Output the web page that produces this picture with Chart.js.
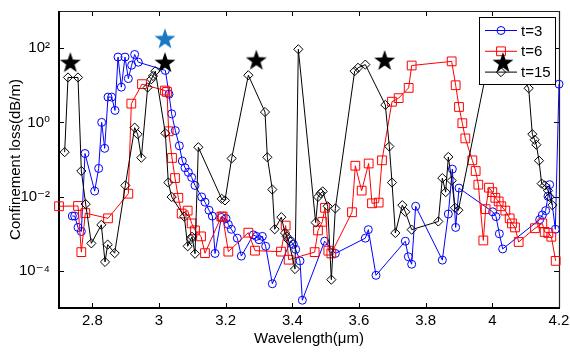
<!DOCTYPE html>
<html><head><meta charset="utf-8">
<script src="https://cdn.jsdelivr.net/npm/chart.js@4.4.0/dist/chart.umd.min.js"></script>
<style>html,body{margin:0;padding:0;background:#fff;}canvas{display:block;}</style>
</head><body>
<canvas id="c" width="570" height="352"></canvas>
<script>
// ---- data ----
const seriesNames = ['t=3', 't=6', 't=15'];

const wl3 = [2.740, 2.747, 2.757, 2.767, 2.778, 2.807, 2.819, 2.828, 2.837, 2.847, 2.858, 2.868, 2.877, 2.887, 2.898, 2.908, 2.918, 2.927, 2.938, 3.019, 3.030, 3.038, 3.049, 3.061, 3.070, 3.078, 3.088, 3.098, 3.108, 3.128, 3.138, 3.150, 3.160, 3.168, 3.187, 3.201, 3.208, 3.217, 3.235, 3.247, 3.283, 3.292, 3.300, 3.310, 3.320, 3.340, 3.395, 3.403, 3.410, 3.423, 3.430, 3.497, 3.529, 3.619, 3.628, 3.651, 3.739, 3.748, 3.758, 3.770, 3.850, 3.868, 3.880, 3.890, 3.900, 4.001, 4.011, 4.021, 4.031, 4.142, 4.150, 4.160, 4.167, 4.172, 4.189, 4.200];
const loss3 = [3.0e-3, 3.0e-3, 1.48e-3, 1.15e-3, 0.145, 0.0141, 0.0575, 1.0, 0.20, 4.8, 4.8, 2.1, 57.5, 8.9, 57.5, 15.1, 34.7, 67.6, 41.7, 25.1, 5.75, 1.70, 0.60, 0.234, 0.091, 0.060, 0.045, 0.033, 0.020, 9.8e-3, 7.1e-3, 4.3e-3, 3.0e-3, 2.95e-4, 2.75e-3, 2.57e-3, 1.78e-3, 1.32e-3, 7.6e-4, 2.5e-4, 9.3e-4, 8.5e-4, 6.9e-4, 8.5e-4, 4.6e-4, 4.5e-5, 6.3e-4, 5.2e-4, 3.8e-4, 1.86e-4, 1.62e-5, 6.3e-4, 2.95e-4, 7.6e-4, 1.29e-3, 7.6e-5, 6.3e-4, 2.4e-4, 1.51e-4, 5.5e-3, 1.95e-4, 3.4e-3, 0.055, 1.48e-3, 0.017, 3.9e-3, 2.9e-3, 1.0e-3, 3.9e-4, 2.4e-3, 3.2e-3, 4.2e-3, 0.0102, 0.021, 1.32e-3, 10.7];

const wl6 = [2.700, 2.757, 2.767, 2.779, 2.847, 2.908, 2.917, 2.949, 3.018, 3.024, 3.029, 3.039, 3.048, 3.058, 3.068, 3.086, 3.098, 3.108, 3.126, 3.138, 3.187, 3.191, 3.208, 3.268, 3.288, 3.366, 3.380, 3.389, 3.467, 3.477, 3.490, 3.498, 3.508, 3.517, 3.579, 3.589, 3.608, 3.629, 3.639, 3.659, 3.669, 3.699, 3.719, 3.749, 3.758, 3.878, 3.890, 3.900, 3.910, 3.919, 3.940, 3.950, 3.958, 3.973, 3.980, 3.990, 4.000, 4.009, 4.019, 4.027, 4.039, 4.052, 4.059, 4.068, 4.079, 4.128, 4.150, 4.157, 4.168, 4.177, 4.190];
const loss6 = [5.5e-3, 5.6e-3, 3.2e-4, 3.6e-3, 2.6e-3, 0.012, 3.2, 10.7, 7.2, 6.6, 0.575, 0.11, 0.0316, 9.3e-3, 3.5e-3, 4.2e-3, 1.9e-3, 1.23e-3, 8.5e-4, 3.0e-4, 2.9e-3, 2.9e-3, 3.3e-4, 1.07e-3, 3.5e-4, 3.3e-4, 1.66e-3, 2.0e-4, 3.2e-4, 1.23e-3, 2.1e-3, 5.0e-3, 3.5e-4, 2.95e-4, 3.8e-3, 0.068, 0.0145, 0.078, 6.6e-3, 6.9e-3, 0.095, 3.6, 4.5, 8.5, 34, 44, 10, 2.6, 0.95, 0.37, 0.095, 0.049, 0.021, 6.6e-4, 4.6e-3, 0.0174, 0.0132, 9.3e-3, 7.4e-3, 5.5e-3, 4.2e-3, 2.6e-3, 1.9e-3, 1.48e-3, 6.0e-4, 1.41e-3, 1.9e-3, 1.12e-3, 1.05e-3, 8.3e-4, 1.86e-4];

const wl15 = [2.717, 2.727, 2.757, 2.767, 2.780, 2.797, 2.827, 2.838, 2.846, 2.867, 2.899, 2.927, 2.936, 2.947, 2.966, 2.977, 2.982, 2.989, 3.019, 3.028, 3.038, 3.076, 3.086, 3.096, 3.099, 3.108, 3.118, 3.188, 3.198, 3.218, 3.268, 3.318, 3.325, 3.340, 3.347, 3.367, 3.378, 3.383, 3.388, 3.408, 3.418, 3.470, 3.477, 3.485, 3.491, 3.506, 3.517, 3.529, 3.587, 3.597, 3.619, 3.679, 3.691, 3.699, 3.709, 3.730, 3.739, 3.758, 3.838, 3.850, 3.860, 3.868, 3.878, 3.888, 3.898, 4.010, 4.109, 4.120, 4.127, 4.132, 4.140, 4.148, 4.157, 4.167, 4.172, 4.180];
const loss15 = [0.158, 16.2, 16.2, 0.049, 6.3e-3, 5.5e-4, 1.74e-3, 1.74e-4, 5.1e-4, 3.0e-4, 0.020, 0.72, 0.48, 0.112, 8.7, 14.5, 17.8, 24, 0.51, 0.024, 9.8e-3, 2.9e-3, 4.6e-4, 7.2e-4, 8.3e-4, 2.9e-4, 0.214, 8.7e-3, 7.9e-3, 0.107, 18.6, 1.9, 0.115, 0.0155, 1.32e-3, 2.8e-3, 1.05e-3, 8.5e-4, 6.9e-4, 1.12e-4, 93, 2.0e-3, 9.8e-3, 0.0123, 0.0138, 5.5e-3, 5.8e-5, 4.8e-3, 24, 29.5, 36, 2.95, 0.224, 0.024, 1.05e-3, 5.9e-3, 3.9e-3, 1.29e-3, 2.14e-3, 0.0316, 0.0132, 0.117, 0.027, 5.0e-3, 4.3e-3, 400, 8.3, 0.48, 0.34, 0.25, 0.093, 0.0224, 0.020, 0.0145, 9.8e-3, 5.9e-3];

const starWl = [2.734, 3.018, 3.292, 3.677, 4.032];
const starLoss = [42, 42, 49, 48, 42];
const blueStarWl = [3.018];
const blueStarLoss = [184];

const xTicks = [2.8, 3.0, 3.2, 3.4, 3.6, 3.8, 4.0, 4.2];
const xTickLabels = ['2.8', '3', '3.2', '3.4', '3.6', '3.8', '4', '4.2'];
const yTicks = [1e-4, 1e-2, 1, 1e2];
const yTickLabels = ['10\u207B\u2074', '10\u207B\u00B2', '10\u2070', '10\u00B2'];

// ---- helpers ----
const FONT = "'Liberation Sans', Arial, 'DejaVu Sans', sans-serif";
function pts(xs, ys) { return xs.map((x, i) => ({ x: x, y: ys[i] })); }
function makeStar(color, R) {
  const c = document.createElement('canvas');
  const s = Math.ceil(R * 2 + 2);
  c.width = s; c.height = s;
  const g = c.getContext('2d');
  g.fillStyle = color;
  g.beginPath();
  const cx = s / 2, cy = s / 2 + R * 0.095;
  for (let i = 0; i < 10; i++) {
    const r = i % 2 === 0 ? R : R * 0.4;
    const a = -Math.PI / 2 + i * Math.PI / 5;
    g.lineTo(cx + r * Math.cos(a), cy + r * Math.sin(a));
  }
  g.closePath(); g.fill();
  return c;
}
const starBlack = makeStar('#000000', 11);
const starBlue = makeStar('#1a78c2', 11);

const colors = ['#0000ff', '#ff0000', '#000000'];
const styles = ['circle', 'rect', 'rectRot'];
const radii = [4, 6.2, 4.6];

function lineSet(i, xs, ys, order) {
  return {
    label: seriesNames[i], data: pts(xs, ys), showLine: true, tension: 0,
    borderColor: colors[i], borderWidth: 1,
    pointStyle: styles[i], pointRadius: radii[i], pointBorderWidth: 1,
    pointBorderColor: colors[i], pointBackgroundColor: 'rgba(0,0,0,0)',
    order: order, clip: 6
  };
}

const datasets = [
  lineSet(0, wl3, loss3, 4),
  lineSet(1, wl6, loss6, 3),
  lineSet(2, wl15, loss15, 2),
  { label: 'stars', data: pts(starWl, starLoss), showLine: false, pointStyle: starBlack, pointRadius: 10, order: 1, clip: 20 },
  { label: 'bluestar', data: pts(blueStarWl, blueStarLoss), showLine: false, pointStyle: starBlue, pointRadius: 10, order: 0, clip: 20 }
];
const STAR_INDEX = 3;

function seg(ctx, x1, y1, x2, y2) { ctx.beginPath(); ctx.moveTo(x1, y1); ctx.lineTo(x2, y2); ctx.stroke(); }

const framePlugin = {
  id: 'frame',
  beforeDatasetsDraw(chart) {
    const { ctx, chartArea: a, scales: { x, y } } = chart;
    ctx.save();
    ctx.strokeStyle = '#000'; ctx.lineWidth = 1;
    xTicks.forEach(v => {
      const px = Math.round(x.getPixelForValue(v)) + 0.5;
      seg(ctx, px, a.bottom, px, a.bottom - 5);
      seg(ctx, px, a.top, px, a.top + 5);
    });
    yTicks.forEach(v => {
      const py = Math.round(y.getPixelForValue(v)) + 0.5;
      seg(ctx, a.left, py, a.left + 5, py);
      seg(ctx, a.right, py, a.right - 5, py);
    });
    ctx.strokeStyle = '#222'; ctx.lineWidth = 1.2;
    seg(ctx, a.left, a.top + 0.5, a.right, a.top + 0.5);
    seg(ctx, a.right + 0.5, a.top, a.right + 0.5, a.bottom);
    ctx.strokeStyle = '#000'; ctx.lineWidth = 2;
    seg(ctx, a.left, a.top, a.left, a.bottom + 1);
    seg(ctx, a.left - 1, a.bottom, a.right + 1, a.bottom);
    ctx.restore();
  }
};

const legendPlugin = {
  id: 'boxLegend',
  beforeDatasetDraw(chart, args) {
    if (args.index !== STAR_INDEX) return;
    const { ctx, chartArea: a } = chart;
    const w = 76, h = 67;
    const x0 = a.right - 4 - w, y0 = a.top + 6;
    ctx.save();
    ctx.fillStyle = '#fff';
    ctx.fillRect(x0, y0, w, h);
    ctx.strokeStyle = '#000'; ctx.lineWidth = 1;
    ctx.strokeRect(x0 + 0.5, y0 + 0.5, w, h);
    ctx.font = '15px ' + FONT;
    ctx.textBaseline = 'middle'; ctx.textAlign = 'left';
    for (let i = 0; i < 3; i++) {
      const yy = y0 + 13.5 + i * 20.8;
      ctx.strokeStyle = colors[i]; ctx.lineWidth = 1;
      seg(ctx, x0 + 6, yy, x0 + 38, yy);
      const mx = x0 + 22;
      ctx.beginPath();
      if (i === 0) { ctx.arc(mx, yy, 4, 0, Math.PI * 2); }
      else if (i === 1) { ctx.rect(mx - 4.4, yy - 4.4, 8.8, 8.8); }
      else { ctx.moveTo(mx - 4.6, yy); ctx.lineTo(mx, yy - 4.6); ctx.lineTo(mx + 4.6, yy); ctx.lineTo(mx, yy + 4.6); ctx.closePath(); }
      ctx.stroke();
      ctx.fillStyle = '#000';
      ctx.fillText(seriesNames[i], x0 + 42, yy + 1);
    }
    ctx.restore();
  }
};

new Chart(document.getElementById('c'), {
  type: 'scatter',
  data: { datasets: datasets },
  options: {
    responsive: false, animation: false, devicePixelRatio: 1, events: [],
    layout: { padding: { left: 0, right: 9, top: 6, bottom: 0 } },
    plugins: { legend: { display: false }, tooltip: { enabled: false } },
    scales: {
      x: {
        type: 'linear', min: 2.7, max: 4.2,
        grid: { display: false, drawTicks: false }, border: { display: false },
        afterBuildTicks: (s) => { s.ticks = xTicks.map(v => ({ value: v })); },
        afterFit: (s) => { s.height = 44; s.paddingLeft = 0; s.paddingRight = 0; },
        ticks: {
          autoSkip: false, maxRotation: 0, padding: 4, color: '#000',
          font: { family: FONT, size: 15 },
          callback: (v) => { const i = xTicks.findIndex(t => Math.abs(t - v) < 1e-6); return i >= 0 ? xTickLabels[i] : ''; }
        },
        title: { display: true, text: 'Wavelength(\u03BCm)', color: '#000', font: { family: FONT, size: 15 }, padding: { top: 0, bottom: 4 } }
      },
      y: {
        type: 'logarithmic', min: 1e-5, max: 1e3,
        grid: { display: false, drawTicks: false }, border: { display: false },
        afterBuildTicks: (s) => { s.ticks = yTicks.map(v => ({ value: v })); },
        afterFit: (s) => { s.width = 59; s.paddingTop = 0; s.paddingBottom = 0; },
        ticks: {
          autoSkip: false, padding: 9, color: '#000',
          font: { family: FONT, size: 15, lineHeight: 0.8 },
          callback: (v) => { const i = yTicks.findIndex(t => Math.abs(Math.log10(t) - Math.log10(v)) < 1e-6); return i >= 0 ? yTickLabels[i] : ''; }
        },
        title: { display: true, text: 'Confinement loss(dB/m)', color: '#000', font: { family: FONT, size: 15 }, padding: { top: 7, bottom: 0 } }
      }
    }
  },
  plugins: [framePlugin, legendPlugin]
});
</script>
</body></html>
